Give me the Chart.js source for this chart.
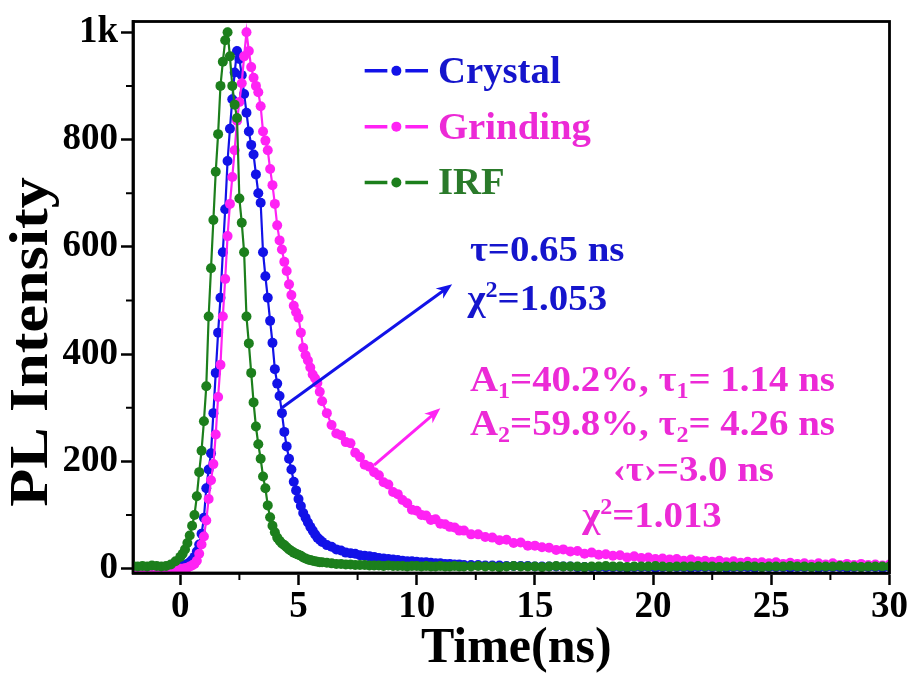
<!DOCTYPE html>
<html lang="en">
<head>
<meta charset="UTF-8">
<title>PL decay</title>
<script src="https://cdn.jsdelivr.net/npm/chart.js"></script>
<style>
  html, body { margin: 0; padding: 0; background: #fff; }
</style>
</head>
<body>
<canvas id="decay" width="912" height="677"></canvas>
<script>
// time channels (ns)
const timeNs = [
  -2, -1.8, -1.6, -1.4, -1.2, -1, -0.8, -0.6, -0.4, -0.2, 0,
  0.1, 0.2, 0.3, 0.4, 0.5, 0.6, 0.7, 0.8, 0.9, 1.0,
  1.1, 1.2, 1.3, 1.4, 1.5, 1.6, 1.7, 1.8, 1.9, 2.0,
  2.1, 2.2, 2.3, 2.4, 2.5, 2.6, 2.7, 2.8, 2.9, 3.0,
  3.1, 3.2, 3.3, 3.4, 3.5, 3.6, 3.7, 3.8, 3.9, 4.0,
  4.1, 4.2, 4.3, 4.4, 4.5, 4.6, 4.7, 4.8, 4.9, 5.0,
  5.1, 5.2, 5.3, 5.4, 5.5, 5.6, 5.7, 5.8, 5.9, 6.0,
  6.2, 6.4, 6.6, 6.8, 7.0, 7.2, 7.4, 7.6, 7.8, 8.0,
  8.2, 8.4, 8.6, 8.8, 9.0, 9.2, 9.4, 9.6, 9.8, 10.0,
  10.2, 10.4, 10.6, 10.8, 11.0, 11.2, 11.4, 11.6, 11.8, 12.0,
  12.3, 12.6, 12.9, 13.2, 13.5, 13.8, 14.1, 14.4, 14.7, 15.0,
  15.3, 15.6, 15.9, 16.2, 16.5, 16.8, 17.1, 17.4, 17.7, 18.0,
  18.3, 18.6, 18.9, 19.2, 19.5, 19.8, 20.1, 20.4, 20.7, 21.0,
  21.3, 21.6, 21.9, 22.2, 22.5, 22.8, 23.1, 23.4, 23.7, 24.0,
  24.3, 24.6, 24.9, 25.2, 25.5, 25.8, 26.1, 26.4, 26.7, 27.0,
  27.3, 27.6, 27.9, 28.2, 28.5, 28.8, 29.1, 29.4, 29.7, 30.0
];

const crystal = [
  3, 2, 3, 2, 3, 2, 3, 2, 3, 3, 4,
  5, 7, 9, 12, 16, 22, 32, 45, 65, 95,
  150, 185, 215, 290, 365, 440, 505, 590, 670, 760,
  820, 875, 925, 965, 950, 920, 885, 850, 815, 790,
  772, 735, 700, 682, 590, 545, 505, 462, 421, 372,
  345, 322, 290, 255, 228, 205, 185, 162, 146, 130,
  117, 104, 95, 86, 78, 71, 64, 58, 54, 50,
  44, 41, 36, 34, 30, 29, 28, 25, 24, 23,
  22, 20, 19, 18, 17, 16, 15, 14, 14, 13,
  12, 12, 11, 10, 10, 9, 9, 8, 8, 7,
  7, 7, 6, 6, 6, 5, 5, 5, 5, 4,
  4, 4, 4, 4, 4, 3, 3, 3, 3, 3,
  3, 3, 2, 3, 3, 3, 2, 3, 3, 3,
  3, 2, 3, 3, 3, 3, 2, 3, 3, 3,
  2, 3, 3, 3, 3, 2, 3, 3, 3, 2,
  3, 3, 3, 2, 3, 3, 3, 3, 2, 3
];

const grinding = [
  1, 0, 1, 0, 1, 0, 1, 0, 0, 1, 0,
  0, 1, 2, 4, 6, 9, 15, 28, 45, 60,
  90, 130, 165, 195, 250, 320, 380, 470, 540, 620,
  680, 730, 780, 835, 870, 905, 955, 1000, 965, 935,
  915, 900, 888, 862, 815, 798, 780, 745, 715, 680,
  640, 612, 595, 572, 555, 530, 510, 490, 478, 468,
  440, 412, 398, 388, 375, 362, 355, 346, 330, 312,
  290, 268, 252, 249, 236, 234, 216, 208, 194, 190,
  180, 174, 161, 157, 143, 139, 128, 122, 110, 108,
  100, 99, 91, 92, 84, 83, 78, 77, 71, 71,
  64, 64, 59, 58, 53, 54, 48, 49, 43, 43,
  40, 39, 35, 36, 32, 33, 28, 30, 26, 27,
  24, 25, 21, 23, 20, 21, 18, 19, 17, 18,
  15, 17, 14, 15, 13, 15, 12, 14, 11, 13,
  11, 12, 10, 12, 9, 11, 9, 10, 8, 10,
  8, 10, 7, 9, 7, 9, 7, 8, 6, 8
];

const irf = [
  5, 4, 5, 4, 6, 5, 4, 5, 8, 14, 22,
  28, 36, 48, 62, 80, 100, 135, 180, 220, 275,
  340, 470, 560, 650, 740, 810, 900, 945, 985, 1000,
  955, 900, 865, 840, 690, 645, 590, 470, 420, 365,
  310, 265, 232, 205, 172, 150, 118, 96, 80, 68,
  58, 52, 47, 44, 40, 36, 33, 30, 28, 26,
  24, 21, 19, 17, 16, 15, 14, 13, 12, 12,
  11, 10, 9, 9, 8, 8, 7, 7, 7, 6,
  6, 6, 5, 6, 5, 5, 5, 4, 5, 5,
  4, 5, 4, 4, 5, 4, 4, 5, 4, 4,
  4, 5, 4, 4, 3, 4, 5, 4, 4, 4,
  3, 4, 5, 4, 4, 4, 3, 4, 4, 5,
  4, 4, 3, 4, 4, 4, 5, 4, 3, 4,
  4, 4, 5, 4, 4, 3, 4, 4, 4, 5,
  4, 3, 4, 4, 4, 5, 4, 4, 3, 4,
  4, 4, 5, 4, 4, 3, 4, 4, 4, 4
];

const seriesNames = ['Crystal', 'Grinding', 'IRF'];
const xMajorTicks = [0, 5, 10, 15, 20, 25, 30];
const xMinorTicks = [2.5, 7.5, 12.5, 17.5, 22.5, 27.5];
const yMajorTicks = [0, 200, 400, 600, 800, 1000];
const yMinorTicks = [100, 300, 500, 700, 900];

const BLUE = '#1212e8';
const PINK = '#ff22f4';
const GREEN = '#1c7f1c';
const BLUE_TXT = '#1515cc';
const PINK_TXT = '#ec2ad6';
const GREEN_TXT = '#2a7a2a';
const FONT = '"Liberation Serif", "Times New Roman", serif';

// legend rows and text notes placed in data coordinates
const legendRows = [
  { name: seriesNames[0], color: BLUE, text: BLUE_TXT, y: 928 },
  { name: seriesNames[1], color: PINK, text: PINK_TXT, y: 824 },
  { name: seriesNames[2], color: GREEN, text: GREEN_TXT, y: 720 }
];
const legendX = { from: 7.8, to: 10.48, text: 10.9 };

const notes = [
  { x: 12.25, y: 573, color: BLUE_TXT, parts: [['τ=0.65 ns']] },
  { x: 12.15, y: 482, color: BLUE_TXT, parts: [['χ'], ['2', 'sup'], ['=1.053']] },
  { x: 12.25, y: 332, color: PINK_TXT, parts: [['A'], ['1', 'sub'], ['=40.2%, τ'], ['1', 'sub'], ['= 1.14 ns']] },
  { x: 12.25, y: 249, color: PINK_TXT, parts: [['A'], ['2', 'sub'], ['=59.8%, τ'], ['2', 'sub'], ['= 4.26 ns']] },
  { x: 18.3, y: 163, color: PINK_TXT, parts: [['‹τ›=3.0 ns']] },
  { x: 17.0, y: 78, color: PINK_TXT, parts: [['χ'], ['2', 'sup'], ['=1.013']] }
];

const arrows = [
  { from: [4.3, 300], to: [11.5, 530], color: BLUE },
  { from: [8.2, 193], to: [11.0, 299], color: PINK }
];

function pairs(vals) {
  return timeNs.map((t, i) => ({ x: t, y: vals[i] }));
}

function richText(ctx, parts, x, y, size, color, sx) {
  ctx.save();
  ctx.translate(x, y);
  ctx.scale(sx, 1);
  ctx.fillStyle = color;
  ctx.textBaseline = 'alphabetic';
  ctx.textAlign = 'left';
  let cx = 0;
  for (const [txt, kind] of parts) {
    const fs = kind ? size * 0.62 : size;
    ctx.font = 'bold ' + fs + 'px ' + FONT;
    const dy = kind === 'sub' ? size * 0.2 : (kind === 'sup' ? -size * 0.36 : 0);
    ctx.fillText(txt, cx, dy);
    cx += ctx.measureText(txt).width;
  }
  ctx.restore();
}

function arrow(ctx, x0, y0, x1, y1, color) {
  const a = Math.atan2(y1 - y0, x1 - x0);
  ctx.save();
  ctx.strokeStyle = color;
  ctx.fillStyle = color;
  ctx.lineWidth = 3;
  ctx.beginPath();
  ctx.moveTo(x0, y0);
  ctx.lineTo(x1 - 8 * Math.cos(a), y1 - 8 * Math.sin(a));
  ctx.stroke();
  ctx.beginPath();
  ctx.moveTo(x1, y1);
  ctx.lineTo(x1 - 17 * Math.cos(a - 0.38), y1 - 17 * Math.sin(a - 0.38));
  ctx.lineTo(x1 - 11 * Math.cos(a), y1 - 11 * Math.sin(a));
  ctx.lineTo(x1 - 17 * Math.cos(a + 0.38), y1 - 17 * Math.sin(a + 0.38));
  ctx.closePath();
  ctx.fill();
  ctx.restore();
}

const overlay = {
  id: 'overlay',
  afterDatasetsDraw(chart) {
    const { ctx, chartArea: ca, scales: { x, y } } = chart;

    // frame
    ctx.save();
    ctx.strokeStyle = '#000';
    ctx.lineWidth = 2.8;
    ctx.strokeRect(ca.left, ca.top, ca.right - ca.left, ca.bottom - ca.top);

    // minor ticks
    ctx.lineWidth = 2;
    ctx.beginPath();
    xMinorTicks.forEach(v => {
      const px = x.getPixelForValue(v);
      ctx.moveTo(px, ca.bottom);
      ctx.lineTo(px, ca.bottom + 7);
    });
    yMinorTicks.forEach(v => {
      const py = y.getPixelForValue(v);
      ctx.moveTo(ca.left, py);
      ctx.lineTo(ca.left - 7, py);
    });
    ctx.stroke();
    ctx.restore();

    // legend
    legendRows.forEach(r => {
      const py = y.getPixelForValue(r.y);
      const x0 = x.getPixelForValue(legendX.from);
      const x1 = x.getPixelForValue(legendX.to);
      const xm = (x0 + x1) / 2;
      ctx.save();
      ctx.strokeStyle = r.color;
      ctx.fillStyle = r.color;
      ctx.lineWidth = 3.5;
      ctx.beginPath();
      ctx.moveTo(x0, py);
      ctx.lineTo(xm - 9, py);
      ctx.moveTo(xm + 9, py);
      ctx.lineTo(x1, py);
      ctx.stroke();
      ctx.beginPath();
      ctx.arc(xm, py, 5, 0, Math.PI * 2);
      ctx.fill();
      ctx.restore();
      richText(ctx, [[r.name]], x.getPixelForValue(legendX.text), py + 12, 38, r.text, 1.02);
    });

    // arrows and notes
    arrows.forEach(a => {
      arrow(ctx, x.getPixelForValue(a.from[0]), y.getPixelForValue(a.from[1]),
        x.getPixelForValue(a.to[0]), y.getPixelForValue(a.to[1]), a.color);
    });
    notes.forEach(n => {
      richText(ctx, n.parts, x.getPixelForValue(n.x), y.getPixelForValue(n.y), 36, n.color, 1.08);
    });

    // axis titles
    ctx.save();
    ctx.fillStyle = '#000';
    ctx.textAlign = 'center';
    ctx.textBaseline = 'alphabetic';
    ctx.font = 'bold 50px ' + FONT;
    ctx.fillText('Time(ns)', (ca.left + ca.right) / 2 + 5, 662);
    ctx.restore();

    ctx.save();
    ctx.fillStyle = '#000';
    ctx.textAlign = 'center';
    ctx.textBaseline = 'middle';
    ctx.font = 'bold 54px ' + FONT;
    ctx.translate(33, 342);
    ctx.rotate(-Math.PI / 2);
    ctx.scale(1.15, 1);
    ctx.fillText('PL Intensity', 0, 0);
    ctx.restore();
  }
};

Chart.defaults.font.family = FONT;

const tickFont = { family: FONT, size: 37, weight: 'bold', lineHeight: 1.0 };

function series(label, vals, color, order) {
  return {
    label: label, data: pairs(vals), borderColor: color, backgroundColor: color,
    pointBackgroundColor: color, borderWidth: 2.2, pointRadius: 5, pointBorderWidth: 0, order: order
  };
}

new Chart(document.getElementById('decay'), {
  type: 'line',
  data: {
    datasets: [
      series(seriesNames[0], crystal, BLUE, 2),
      series(seriesNames[1], grinding, PINK, 1),
      series(seriesNames[2], irf, GREEN, 0)
    ]
  },
  options: {
    responsive: false,
    animation: false,
    layout: { padding: { top: 19, right: 22, left: 0, bottom: 0 } },
    plugins: { legend: { display: false }, tooltip: { enabled: false } },
    scales: {
      x: {
        type: 'linear',
        min: -2,
        max: 30,
        afterBuildTicks: s => { s.ticks = xMajorTicks.map(v => ({ value: v })); },
        afterFit: s => { s.height = 104; },
        grid: { drawOnChartArea: false, tickLength: 12, tickWidth: 2.5, tickColor: '#000' },
        border: { display: true, color: '#000', width: 2.8 },
        ticks: { font: tickFont, color: '#000', padding: 4, maxRotation: 0 }
      },
      y: {
        min: -8,
        max: 1020,
        afterBuildTicks: s => { s.ticks = yMajorTicks.map(v => ({ value: v })); },
        afterFit: s => { s.width = 133; },
        grid: { drawOnChartArea: false, tickLength: 12, tickWidth: 2.5, tickColor: '#000' },
        border: { display: true, color: '#000', width: 2.8 },
        ticks: {
          font: tickFont, color: '#000', padding: 3,
          callback: v => (v === 1000 ? '1k' : v)
        }
      }
    }
  },
  plugins: [overlay]
});
</script>
</body>
</html>
